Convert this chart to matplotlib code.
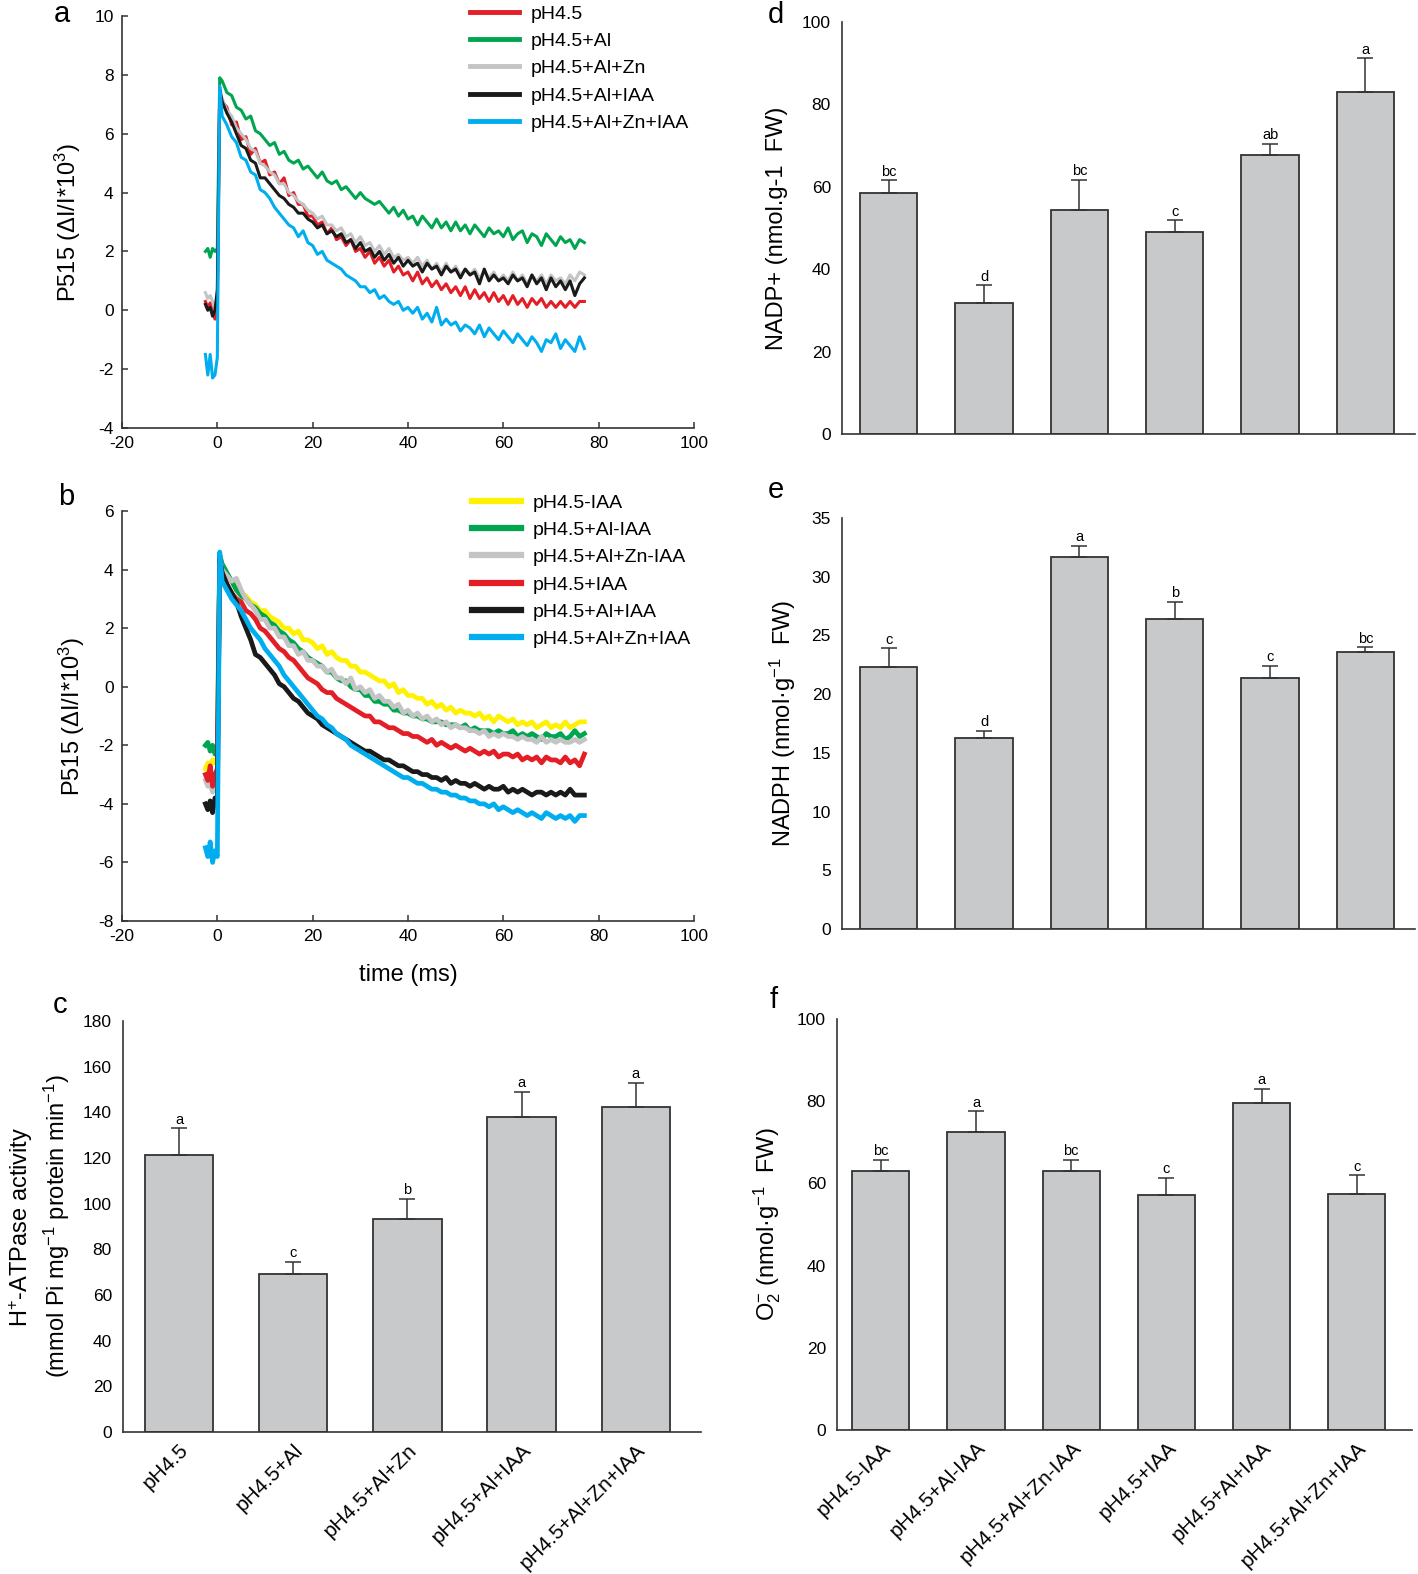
import numpy as np
import matplotlib.pyplot as plt
from matplotlib.lines import Line2D

plt.rcParams['font.family'] = ['Liberation Sans', 'DejaVu Sans']
plt.rcParams['mathtext.fontset'] = 'custom'
plt.rcParams['mathtext.rm'] = 'Liberation Sans'
plt.rcParams['mathtext.it'] = 'Liberation Sans:italic'
plt.rcParams['mathtext.bf'] = 'Liberation Sans:bold'
plt.rcParams['axes.unicode_minus'] = False

# ---- P515 traces (ms) ----
t_pre = [-2.5, -2.0, -1.5, -1.0, -0.5, 0.0, 0.5]
t_post = list(range(1, 78))
t_ms = t_pre + t_post

# panel a
a_labels = ['pH4.5', 'pH4.5+Al', 'pH4.5+Al+Zn', 'pH4.5+Al+IAA', 'pH4.5+Al+Zn+IAA']
a_red = [0.3, 0.1, 0.25, 0.0, -0.3, 0.1, 7.4,
         7.1, 6.9, 6.3, 6.4, 5.8, 5.9, 5.3, 5.5, 5.0, 5.1,
         4.6, 4.7, 4.3, 4.5, 3.9, 4.0, 3.6, 3.6, 3.2, 3.2,
         2.9, 3.0, 2.6, 2.8, 2.4, 2.5, 2.2, 2.4, 2.0, 2.1,
         1.8, 2.0, 1.6, 1.8, 1.5, 1.7, 1.3, 1.5, 1.2, 1.3,
         1.0, 1.3, 0.9, 1.1, 0.8, 1.0, 0.7, 0.9, 0.6, 0.8,
         0.5, 0.8, 0.4, 0.7, 0.4, 0.6, 0.3, 0.6, 0.3, 0.5,
         0.2, 0.5, 0.2, 0.4, 0.1, 0.4, 0.2, 0.4, 0.1, 0.3,
         0.1, 0.3, 0.1, 0.3, 0.1, 0.3, 0.3]
a_green = [2.0, 2.1, 1.8, 2.1, 2.0, 2.1, 7.9,
           7.8, 7.4, 7.3, 6.9, 6.8, 6.5, 6.6, 6.1, 6.0, 5.8,
           5.6, 5.7, 5.3, 5.4, 5.1, 5.0, 5.1, 4.8, 4.9, 4.7,
           4.5, 4.7, 4.4, 4.3, 4.4, 4.1, 4.2, 4.0, 3.8, 4.0,
           3.8, 3.7, 3.6, 3.7, 3.5, 3.3, 3.5, 3.2, 3.4, 3.1,
           3.2, 2.9, 3.2, 3.0, 2.8, 3.1, 2.8, 3.0, 2.7, 3.0,
           2.7, 2.9, 2.6, 2.9, 2.7, 2.5, 2.8, 2.6, 2.7, 2.5,
           2.8, 2.4, 2.6, 2.7, 2.3, 2.6, 2.5, 2.2, 2.6, 2.4,
           2.2, 2.5, 2.3, 2.4, 2.1, 2.4, 2.3]
a_gray = [0.6, 0.4, 0.5, 0.3, 0.0, 0.4, 7.6,
          7.2, 6.8, 6.6, 6.2, 6.0, 5.8, 5.5, 5.4, 5.0, 4.9,
          4.7, 4.6, 4.3, 4.3, 4.0, 3.9, 3.7, 3.6, 3.4, 3.3,
          3.1, 3.2, 2.9, 2.9, 2.7, 2.8, 2.5, 2.6, 2.3, 2.5,
          2.2, 2.3, 2.0, 2.2, 1.9, 2.1, 1.8, 1.9, 1.7, 1.8,
          1.6, 1.8, 1.5, 1.7, 1.4, 1.6, 1.3, 1.6, 1.3, 1.5,
          1.2, 1.4, 1.2, 1.4, 1.1, 1.3, 1.1, 1.3, 1.0, 1.2,
          1.0, 1.3, 1.0, 1.2, 0.9, 1.2, 1.0, 1.2, 0.9, 1.2,
          1.0, 1.1, 0.9, 1.2, 1.0, 1.3, 1.2]
a_black = [0.2, 0.0, 0.1, -0.2, 0.0, 0.7, 7.5,
           7.1, 6.7, 6.4, 6.0, 5.6, 5.5, 5.1, 5.0, 4.5, 4.5,
           4.3, 4.1, 3.9, 3.8, 3.6, 3.5, 3.3, 3.3, 3.1, 3.0,
           2.8, 2.9, 2.6, 2.7, 2.5, 2.6, 2.3, 2.4, 2.1, 2.3,
           2.0, 2.1, 1.8, 2.0, 1.7, 1.9, 1.6, 1.8, 1.5, 1.7,
           1.5, 1.6, 1.3, 1.6, 1.4, 1.5, 1.2, 1.5, 1.3, 1.4,
           1.1, 1.4, 1.2, 1.3, 0.9, 1.4, 1.0, 1.2, 1.0, 1.1,
           0.9, 1.2, 1.0, 1.1, 0.8, 1.2, 0.9, 1.1, 0.7, 1.1,
           0.8, 1.0, 0.7, 1.0, 0.5, 0.9, 1.1]
a_blue = [-1.5, -2.2, -1.5, -2.3, -2.2, -1.6, 7.6,
          6.6, 6.3, 5.9, 5.7, 5.2, 5.1, 4.7, 4.6, 4.1, 4.0,
          3.8, 3.5, 3.3, 3.1, 2.9, 2.8, 2.5, 2.7, 2.3, 2.2,
          1.9, 2.0, 1.7, 1.6, 1.5, 1.4, 1.2, 1.1, 1.0, 0.8,
          0.8, 0.6, 0.7, 0.4, 0.5, 0.3, 0.2, 0.3, 0.0, 0.1,
          -0.1, 0.1, -0.3, -0.1, -0.4, 0.1, -0.5, -0.3, -0.5, -0.4,
          -0.7, -0.5, -0.6, -0.8, -0.5, -0.9, -0.6, -0.8, -1.0, -0.7,
          -0.9, -1.1, -0.8, -1.0, -1.2, -0.9, -1.1, -1.4, -1.0, -1.1,
          -0.8, -1.3, -1.0, -1.2, -1.4, -0.9, -1.3]

# panel b
b_labels = ['pH4.5-IAA', 'pH4.5+Al-IAA', 'pH4.5+Al+Zn-IAA', 'pH4.5+IAA',
            'pH4.5+Al+IAA', 'pH4.5+Al+Zn+IAA']
b_yellow = [-2.8, -2.6, -2.7, -2.5, -2.6, -2.4, 4.5,
            4.1, 3.8, 3.6, 3.4, 3.2, 3.1, 2.9, 2.8, 2.6, 2.6,
            2.4, 2.3, 2.2, 2.0, 2.0, 1.8, 1.9, 1.6, 1.6, 1.5,
            1.3, 1.4, 1.1, 1.2, 1.0, 0.9, 0.9, 0.7, 0.7, 0.5,
            0.5, 0.4, 0.3, 0.2, 0.2, 0.0, 0.1, -0.2, -0.1, -0.3,
            -0.3, -0.4, -0.4, -0.6, -0.5, -0.7, -0.6, -0.8, -0.7, -0.9,
            -0.8, -0.9, -0.9, -1.0, -0.9, -1.1, -1.0, -1.2, -1.0, -1.1,
            -1.2, -1.1, -1.3, -1.2, -1.3, -1.2, -1.4, -1.3, -1.2, -1.4,
            -1.3, -1.4, -1.2, -1.4, -1.3, -1.2, -1.2]
b_green = [-2.0, -1.9, -2.2, -2.0, -2.3, -2.1, 4.5,
           4.2, 3.9, 3.6, 3.3, 3.1, 3.0, 2.8, 2.7, 2.5, 2.4,
           2.2, 2.1, 1.9, 1.8, 1.6, 1.5, 1.3, 1.2, 1.0, 0.9,
           0.8, 0.7, 0.5, 0.5, 0.3, 0.2, 0.2, 0.0, -0.1, -0.1,
           -0.3, -0.3, -0.5, -0.5, -0.6, -0.6, -0.8, -0.8, -0.9, -0.9,
           -1.0, -1.0, -1.1, -1.1, -1.2, -1.2, -1.2, -1.3, -1.3, -1.3,
           -1.4, -1.3, -1.5, -1.4, -1.5, -1.5, -1.5, -1.6, -1.5, -1.6,
           -1.6, -1.5, -1.7, -1.6, -1.7, -1.6, -1.7, -1.8, -1.6, -1.7,
           -1.7, -1.6, -1.8, -1.7, -1.5, -1.7, -1.6]
b_gray = [-3.2, -3.4, -3.3, -3.6, -3.4, -3.0, 4.4,
          4.0, 3.8, 3.6, 3.7, 3.3, 3.0, 2.8, 2.6, 2.3, 2.3,
          2.0, 2.0, 1.7, 1.7, 1.4, 1.4, 1.1, 1.2, 0.9, 0.9,
          0.7, 0.7, 0.5, 0.6, 0.3, 0.3, 0.1, 0.3, -0.1, 0.0,
          -0.2, -0.1, -0.4, -0.3, -0.5, -0.5, -0.7, -0.6, -0.9, -0.8,
          -1.0, -0.9, -1.1, -1.0, -1.2, -1.1, -1.3, -1.2, -1.4, -1.3,
          -1.4, -1.4, -1.5, -1.5, -1.6, -1.5, -1.7, -1.6, -1.7, -1.6,
          -1.7, -1.7, -1.8, -1.7, -1.8, -1.8, -1.9, -1.7, -1.9, -1.8,
          -1.9, -1.8, -1.9, -1.9, -1.8, -1.9, -1.8]
b_red = [-3.0, -3.2, -2.7, -3.4, -3.0, -2.8, 4.3,
         3.9, 3.5, 3.2, 3.0, 2.9, 2.6, 2.5, 2.3, 2.0, 1.9,
         1.7, 1.5, 1.3, 1.2, 1.0, 0.9, 0.7, 0.5, 0.3, 0.2,
         0.1, -0.1, -0.2, -0.2, -0.4, -0.5, -0.6, -0.7, -0.8, -0.9,
         -1.0, -1.0, -1.2, -1.2, -1.3, -1.4, -1.4, -1.5, -1.6, -1.6,
         -1.7, -1.7, -1.8, -1.9, -1.8, -2.0, -1.9, -2.0, -2.1, -2.0,
         -2.1, -2.2, -2.1, -2.2, -2.3, -2.2, -2.3, -2.2, -2.4, -2.3,
         -2.3, -2.4, -2.3, -2.5, -2.4, -2.5, -2.4, -2.6, -2.4, -2.5,
         -2.5, -2.6, -2.4, -2.6, -2.5, -2.7, -2.3]
b_black = [-4.0, -4.2, -3.9, -4.3, -3.8, -3.9, 4.4,
           3.9, 3.5, 3.2, 2.9, 2.4, 2.0, 1.6, 1.1, 1.0, 0.8,
           0.6, 0.4, 0.1, 0.0, -0.2, -0.4, -0.5, -0.7, -0.9, -1.0,
           -1.1, -1.3, -1.4, -1.5, -1.6, -1.7, -1.8, -1.9, -2.0, -2.1,
           -2.2, -2.2, -2.3, -2.4, -2.5, -2.5, -2.6, -2.7, -2.7, -2.8,
           -2.9, -2.9, -3.0, -3.0, -3.1, -3.1, -3.2, -3.1, -3.3, -3.2,
           -3.3, -3.3, -3.4, -3.3, -3.4, -3.5, -3.4, -3.5, -3.5, -3.4,
           -3.6, -3.5, -3.6, -3.5, -3.6, -3.7, -3.6, -3.6, -3.7, -3.6,
           -3.7, -3.6, -3.7, -3.5, -3.7, -3.7, -3.7]
b_blue = [-5.5, -5.8, -5.3, -6.0, -5.6, -5.8, 4.6,
          3.6, 3.3, 3.0, 2.8, 2.6, 2.3, 2.0, 1.8, 1.6, 1.3,
          1.1, 0.9, 0.7, 0.4, 0.2, 0.0, -0.2, -0.4, -0.6, -0.8,
          -1.0, -1.1, -1.3, -1.4, -1.6, -1.7, -1.8, -2.0, -2.1, -2.2,
          -2.3, -2.4, -2.5, -2.6, -2.7, -2.8, -2.9, -3.0, -3.1, -3.1,
          -3.2, -3.3, -3.3, -3.4, -3.5, -3.5, -3.6, -3.6, -3.7, -3.7,
          -3.8, -3.8, -3.9, -3.9, -4.0, -4.0, -4.1, -4.0, -4.2, -4.1,
          -4.2, -4.3, -4.2, -4.3, -4.4, -4.3, -4.4, -4.5, -4.3, -4.4,
          -4.5, -4.4, -4.5, -4.4, -4.6, -4.4, -4.4]

# ---- bar panels ----
c_cats = ['pH4.5', 'pH4.5+Al', 'pH4.5+Al+Zn', 'pH4.5+Al+IAA', 'pH4.5+Al+Zn+IAA']
c_vals = [121.5, 69.0, 93.3, 138.0, 142.3]
c_err = [11.5, 5.5, 8.7, 11.0, 10.7]
c_sig = ['a', 'c', 'b', 'a', 'a']

def_cats = ['pH4.5-IAA', 'pH4.5+Al-IAA', 'pH4.5+Al+Zn-IAA', 'pH4.5+IAA',
            'pH4.5+Al+IAA', 'pH4.5+Al+Zn+IAA']
d_vals = [58.4, 31.7, 54.3, 49.0, 67.6, 83.0]
d_err = [3.2, 4.4, 7.4, 2.9, 2.8, 8.2]
d_sig = ['bc', 'd', 'bc', 'c', 'ab', 'a']

e_vals = [22.3, 16.25, 31.7, 26.4, 21.4, 23.6]
e_err = [1.6, 0.6, 0.95, 1.45, 1.0, 0.4]
e_sig = ['c', 'd', 'a', 'b', 'c', 'bc']

f_vals = [63.1, 72.5, 63.1, 57.2, 79.5, 57.5]
f_err = [2.6, 5.0, 2.6, 4.2, 3.5, 4.5]
f_sig = ['bc', 'a', 'bc', 'c', 'a', 'c']

W, H = 1418, 1574
fig = plt.figure(figsize=(W / 100, H / 100), dpi=100)


def px_axes(l, t, r, b):
    return fig.add_axes([l / W, 1 - b / H, (r - l) / W, (b - t) / H])


def trace_axes(ax, ymin, ymax):
    ax.set_xlim(-20, 100)
    ax.set_ylim(ymin, ymax)
    ax.set_xticks(range(-20, 101, 20))
    ax.set_yticks(range(ymin, ymax + 1, 2))
    for s in ['top', 'right']:
        ax.spines[s].set_visible(False)
    for s in ['left', 'bottom']:
        ax.spines[s].set_linewidth(1.2)
        ax.spines[s].set_color('#333333')
    ax.tick_params(direction='in', length=4, width=1.1, labelsize=12.5, pad=6,
                   colors='#333333', labelcolor='black')
    ax.set_ylabel('P515 (ΔI/I*10$^{3}$)', fontsize=17, labelpad=8)


# panel a
ax_a = px_axes(122, 16, 694, 428)
a_series = [a_red, a_green, a_gray, a_black, a_blue]
a_colors = ['#e41e26', '#00a550', '#c4c4c4', '#1a1a1a', '#00aeef']
a_order = [1, 0, 2, 3, 4]
for i in a_order:
    ax_a.plot(t_ms, a_series[i], color=a_colors[i], lw=2.2)
trace_axes(ax_a, -4, 10)
h_a = [Line2D([], [], color=c, lw=3.5) for c in a_colors]
fig.legend(h_a, a_labels, loc='upper left', bbox_to_anchor=(470 / W, 1 - 5 / H),
           frameon=False, fontsize=14, handlelength=2.5, handletextpad=0.6,
           labelspacing=0.5, borderpad=0, borderaxespad=0)

# panel b
ax_b = px_axes(122, 511, 694, 921)
b_series = [b_yellow, b_green, b_gray, b_red, b_black, b_blue]
b_colors = ['#fff200', '#00a550', '#c4c4c4', '#e41e26', '#1a1a1a', '#00aeef']
for i in range(len(b_series)):
    ax_b.plot(t_ms, b_series[i], color=b_colors[i], lw=3.4)
trace_axes(ax_b, -8, 6)
ax_b.set_xlabel('time (ms)', fontsize=17, labelpad=14)
h_b = [Line2D([], [], color=c, lw=4.5) for c in b_colors]
fig.legend(h_b, b_labels, loc='upper left', bbox_to_anchor=(472 / W, 1 - 494 / H),
           frameon=False, fontsize=14, handlelength=2.5, handletextpad=0.6,
           labelspacing=0.5, borderpad=0, borderaxespad=0)


def bar_axes(ax, cats, vals, errs, sig, ymax, ystep, xlim, show_labels):
    x = np.arange(len(vals))
    ax.bar(x, vals, width=0.6, color='#c8c9cb', edgecolor='#333333', linewidth=1.3, zorder=2)
    ax.errorbar(x, vals, yerr=[np.zeros(len(vals)), errs], fmt='none', ecolor='#333333',
                elinewidth=1.1, capsize=6, capthick=1.1, zorder=3)
    for xi, v, e, s in zip(x, vals, errs, sig):
        ax.text(xi, v + e + ymax * 0.004, s, ha='center', va='bottom', fontsize=10.5)
    ax.set_xlim(*xlim)
    ax.set_ylim(0, ymax)
    ax.set_yticks(np.arange(0, ymax + 0.1, ystep))
    for s in ['top', 'right']:
        ax.spines[s].set_visible(False)
    for s in ['left', 'bottom']:
        ax.spines[s].set_linewidth(1.2)
        ax.spines[s].set_color('#333333')
    ax.tick_params(axis='y', length=0, labelsize=12.5, pad=8)
    ax.tick_params(axis='x', length=0, pad=6)
    ax.set_xticks(x)
    if show_labels:
        ax.set_xticklabels(cats, rotation=45, ha='right', rotation_mode='anchor', fontsize=15)
    else:
        ax.set_xticklabels([])


# panel c
ax_c = px_axes(123, 1021, 701, 1432)
bar_axes(ax_c, c_cats, c_vals, c_err, c_sig, 180, 20, (-0.49, 4.57), True)
ax_c.set_ylabel('H$^{+}$-ATPase activity\n(mmol Pi mg$^{-1}$ protein min$^{-1}$)',
                fontsize=17, labelpad=8, linespacing=1.3)

# panel d
ax_d = px_axes(842, 22, 1415, 434)
bar_axes(ax_d, def_cats, d_vals, d_err, d_sig, 100, 20, (-0.49, 5.52), False)
ax_d.set_ylabel('NADP+ (nmol.g-1  FW)', fontsize=17, labelpad=10)

# panel e
ax_e = px_axes(842, 518, 1415, 929)
bar_axes(ax_e, def_cats, e_vals, e_err, e_sig, 35, 5, (-0.49, 5.52), False)
ax_e.set_ylabel('NADPH (nmol·g$^{-1}$  FW)', fontsize=17, labelpad=10)

# panel f
ax_f = px_axes(837, 1019, 1412, 1430)
bar_axes(ax_f, def_cats, f_vals, f_err, f_sig, 100, 20, (-0.46, 5.58), True)
ax_f.set_ylabel('O$_{2}^{-}$ (nmol·g$^{-1}$  FW)', fontsize=17, labelpad=10)

# panel letters
for lab, xp, yp in [('a', 62, 14), ('b', 66, 497), ('c', 60, 1005),
                    ('d', 776, 15), ('e', 776, 490), ('f', 774, 1000)]:
    fig.text(xp / W, 1 - yp / H, lab, fontsize=21, ha='center', va='center')

fig.savefig('out.png', dpi=100)
